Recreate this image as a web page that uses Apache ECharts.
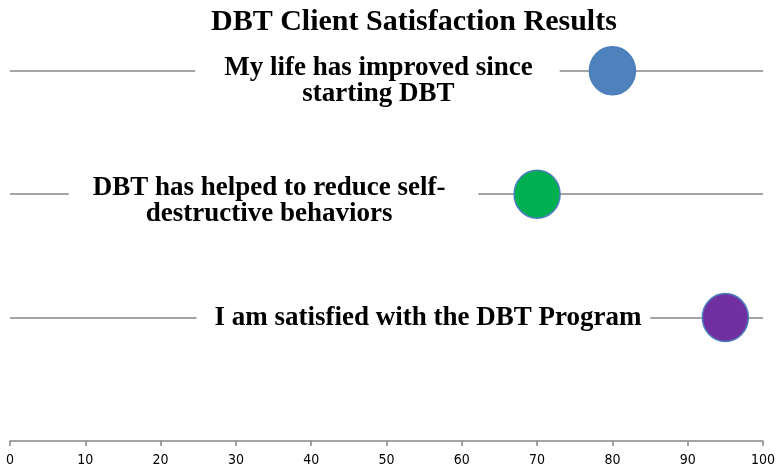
<!DOCTYPE html>
<html>
<head>
<meta charset="utf-8">
<script src="https://cdn.jsdelivr.net/npm/echarts@6/dist/echarts.min.js"></script>
<style>
  html, body { margin: 0; padding: 0; background: #fff; }
  #chart { width: 780px; height: 475px; }
</style>
</head>
<body>
<div id="chart"></div>
<script>
// statements, top to bottom
const statements = [
  'My life has improved since\nstarting DBT',
  'DBT has helped to reduce self-\ndestructive behaviors',
  'I am satisfied with the DBT Program'
];
const scores = [80, 70, 95];
const dotColors = ['#4F81BD', '#00B050', '#7030A0'];
const xTicks = [0, 10, 20, 30, 40, 50, 60, 70, 80, 90, 100];

// row heights on the hidden y axis
const rows = [3, 2, 1];
// where each label sits along the x axis (layout only)
const labelX = [48.8, 35.0, 54.9];
const labelShift = [10, 7, 0];
// white box round each label, cutting the line
const labelPad = [[2, 27, 2, 29], [2, 33, 2, 24], [2, 9, 2, 18]];

const chart = echarts.init(document.getElementById('chart'));

const serif = '"Liberation Serif", "DejaVu Serif", serif';

chart.setOption({
  animation: false,
  title: {
    text: 'DBT Client Satisfaction Results',
    left: 206,
    top: 2,
    textStyle: { fontFamily: serif, fontWeight: 'bold', fontSize: 30, color: '#000' }
  },
  grid: { left: 10, right: 17, top: 9, bottom: 34 },
  xAxis: {
    type: 'value',
    min: 0,
    max: 100,
    interval: 10,
    splitLine: { show: false },
    axisLine: { lineStyle: { color: '#868686', width: 1.5 } },
    axisTick: { show: true, length: 5, lineStyle: { color: '#868686', width: 1.5 } },
    axisLabel: {
      margin: 12,
      color: '#000',
      fontFamily: '"DejaVu Sans Condensed", "DejaVu Sans", sans-serif',
      fontSize: 14,
      formatter: v => xTicks.includes(v) ? String(v) : ''
    }
  },
  yAxis: { type: 'value', min: 0, max: 3.5, show: false },
  series: [
    {
      type: 'scatter',
      z: 1,
      symbolSize: 0,
      silent: true,
      data: [],
      markLine: {
        z: 1,
        silent: true,
        symbol: 'none',
        label: { show: false },
        lineStyle: { color: '#868686', width: 1.5, type: 'solid', opacity: 1 },
        data: rows.map(r => ({ yAxis: r }))
      }
    },
    {
      type: 'scatter',
      z: 3,
      symbolSize: 1,
      silent: true,
      itemStyle: { opacity: 0 },
      label: {
        show: true,
        position: 'inside',
        fontFamily: serif,
        fontWeight: 'bold',
        fontSize: 27,
        lineHeight: 26,
        color: '#000',
        opacity: 1,
        backgroundColor: '#fff',
        formatter: p => statements[p.dataIndex]
      },
      data: statements.map((s, i) => ({
        value: [labelX[i], rows[i]],
        label: { offset: [0, labelShift[i]], padding: labelPad[i] }
      }))
    },
    {
      type: 'scatter',
      z: 4,
      symbolSize: [46, 48],
      data: scores.map((v, i) => ({
        value: [v, rows[i]],
        itemStyle: { color: dotColors[i], borderColor: '#4A7EBB', borderWidth: 1.5, opacity: 1 }
      }))
    }
  ]
});
</script>
</body>
</html>
